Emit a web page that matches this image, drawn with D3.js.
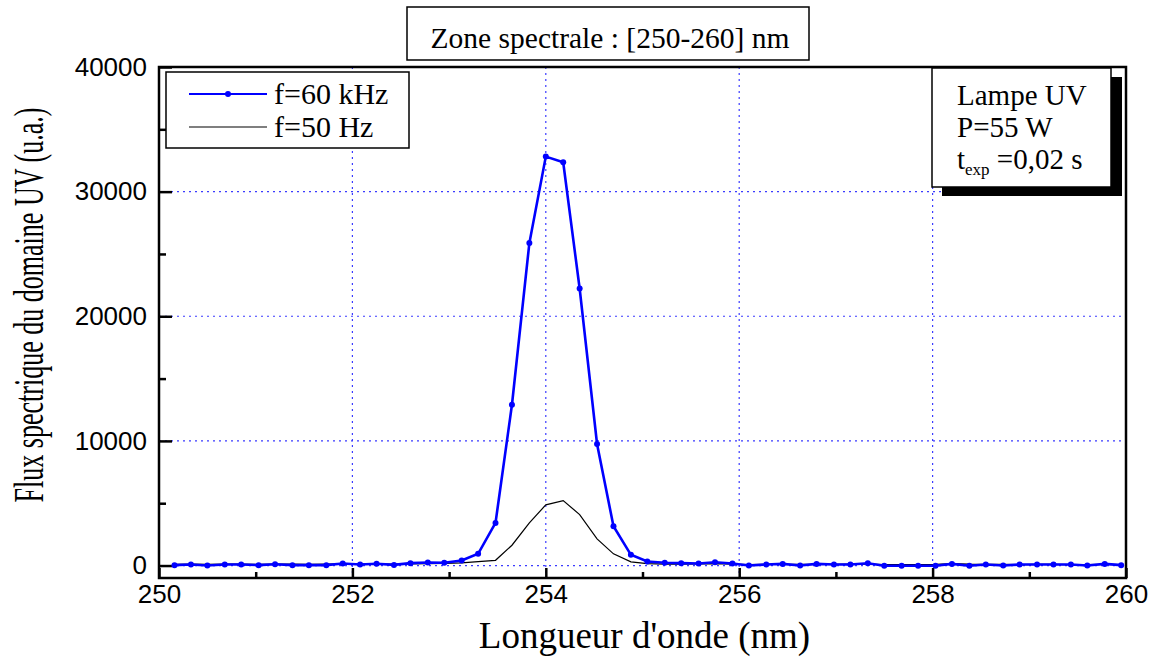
<!DOCTYPE html>
<html>
<head>
<meta charset="utf-8">
<script src="https://cdn.jsdelivr.net/npm/d3@7"></script>
<style>
    body { margin: 0; background: #fff; }
    svg { display: block; }
    .serif { font-family: "Liberation Serif", "Times New Roman", serif; fill: #000; }
    .tick text { font-family: "Liberation Sans", Arial, sans-serif; font-size: 26px; fill: #000; }
</style>
</head>
<body>
<svg id="chart"></svg>
<script>
// wavelengths (nm) of the measured points
const wavelengths = [
    250.16, 250.33, 250.50, 250.68, 250.85, 251.03, 251.20, 251.38, 251.55, 251.73,
    251.90, 252.08, 252.25, 252.43, 252.60, 252.78, 252.95, 253.13, 253.30, 253.48,
    253.65, 253.83, 254.00, 254.18, 254.35, 254.53, 254.70, 254.88, 255.05, 255.23,
    255.40, 255.58, 255.75, 255.93, 256.10, 256.28, 256.45, 256.63, 256.80, 256.98,
    257.15, 257.33, 257.50, 257.68, 257.85, 258.03, 258.20, 258.38, 258.55, 258.73,
    258.90, 259.08, 259.25, 259.43, 259.60, 259.78, 259.95
];

// f=60 kHz
const flux60k = [
    30, 80, 0, 80, 80, 30, 100, 30, 30, 30,
    160, 80, 140, 50, 190, 240, 220, 400, 940, 3420,
    12900, 25870, 32810, 32360, 22230, 9750, 3150, 860, 320, 220,
    190, 160, 260, 160, 0, 80, 130, 0, 130, 80,
    80, 180, -20, -20, -20, -20, 130, -20, 80, 0,
    80, 80, 80, 80, 0, 130, 30
];

// f=50 Hz
const flux50 = [
    100, 110, 100, 120, 110, 100, 120, 110, 100, 110,
    130, 110, 120, 110, 130, 150, 170, 220, 310, 420,
    1630, 3420, 4870, 5210, 4090, 2140, 940, 300, 160, 120,
    110, 130, 150, 110, 80, 90, 100, 90, 100, 100,
    110, 120, 80, 70, 70, 90, 160, 110, 100, 90,
    80, 90, 90, 80, 70, 90, 80
];

const xTicks = [250, 252, 254, 256, 258, 260];
const xMinorTicks = [251, 253, 255, 257, 259];
const yTicks = [0, 10000, 20000, 30000, 40000];
const yMinorTicks = [5000, 15000, 25000, 35000];

const titleText = "Zone spectrale : [250-260] nm";
const legendLabels = ["f=60 kHz", "f=50 Hz"];
const infoLines = ["Lampe UV", "P=55 W"];

const W = 1152, H = 660;
const plotLeft = 159, plotRight = 1126, plotTop = 67, plotBottom = 578;

const svg = d3.select("#chart")
    .attr("width", W)
    .attr("height", H);

svg.append("rect").attr("width", W).attr("height", H).attr("fill", "#fff");

const x = d3.scaleLinear().domain([250, 260]).range([plotLeft, plotRight]);
const y = d3.scaleLinear().domain([-1000, 40000]).range([plotBottom, plotTop]);

// grid
const grid = svg.append("g")
    .attr("stroke", "#3b3bff")
    .attr("stroke-width", 1.2)
    .attr("stroke-dasharray", "2,4");

grid.selectAll(".gx")
    .data(xTicks.slice(1, -1))
    .enter()
    .append("line")
    .attr("x1", d => x(d)).attr("x2", d => x(d))
    .attr("y1", plotTop).attr("y2", plotBottom);

grid.selectAll(".gy")
    .data(yTicks.slice(0, -1))
    .enter()
    .append("line")
    .attr("x1", plotLeft).attr("x2", plotRight)
    .attr("y1", d => y(d)).attr("y2", d => y(d));

// axes, ticks pointing inward
svg.append("g")
    .attr("transform", `translate(0,${plotBottom})`)
    .call(d3.axisBottom(x).tickValues(xTicks).tickFormat(d3.format("d")).tickSize(-10).tickPadding(7));

svg.append("g")
    .attr("transform", `translate(0,${plotBottom})`)
    .call(d3.axisBottom(x).tickValues(xMinorTicks).tickFormat("").tickSize(-6));

svg.append("g")
    .attr("transform", `translate(${plotLeft},0)`)
    .call(d3.axisLeft(y).tickValues(yTicks).tickFormat(d3.format("d")).tickSize(-13).tickPadding(12));

svg.append("g")
    .attr("transform", `translate(${plotLeft},0)`)
    .call(d3.axisLeft(y).tickValues(yMinorTicks).tickFormat("").tickSize(-7));

svg.selectAll(".domain").remove();
svg.selectAll(".tick line").attr("stroke", "#000").attr("stroke-width", 2.5);

// frame
svg.append("rect")
    .attr("x", plotLeft).attr("y", plotTop)
    .attr("width", plotRight - plotLeft).attr("height", plotBottom - plotTop)
    .attr("fill", "none")
    .attr("stroke", "#000")
    .attr("stroke-width", 2.5);

const data60 = wavelengths.map((w, i) => ({ w: w, v: flux60k[i] }));
const data50 = wavelengths.map((w, i) => ({ w: w, v: flux50[i] }));

const line = d3.line().x(d => x(d.w)).y(d => y(d.v));

svg.append("path")
    .datum(data50)
    .attr("d", line)
    .attr("fill", "none")
    .attr("stroke", "#000")
    .attr("stroke-width", 1.2);

svg.append("path")
    .datum(data60)
    .attr("d", line)
    .attr("fill", "none")
    .attr("stroke", "#0000ff")
    .attr("stroke-width", 2.6);

svg.selectAll(".dot")
    .data(data60)
    .enter()
    .append("circle")
    .attr("class", "dot")
    .attr("cx", d => x(d.w))
    .attr("cy", d => y(d.v))
    .attr("r", 3)
    .attr("fill", "#0000ff");

// legend
const lg = svg.append("g");
lg.append("rect")
    .attr("x", 166).attr("y", 72).attr("width", 243).attr("height", 76)
    .attr("fill", "#fff").attr("stroke", "#000").attr("stroke-width", 1.5);

const legendY = [94, 127];
legendLabels.forEach((label, i) => {
    lg.append("line")
        .attr("x1", 189).attr("x2", 267)
        .attr("y1", legendY[i]).attr("y2", legendY[i])
        .attr("stroke", i === 0 ? "#0000ff" : "#000")
        .attr("stroke-width", i === 0 ? 2 : 1.2);
    if (i === 0) {
        lg.append("circle").attr("cx", 228).attr("cy", legendY[i]).attr("r", 3).attr("fill", "#0000ff");
    }
    lg.append("text")
        .attr("class", "serif")
        .attr("x", 274).attr("y", legendY[i] + 10)
        .attr("font-size", 30)
        .text(label);
});

// info box with shadow
const ib = svg.append("g");
ib.append("rect")
    .attr("x", 942).attr("y", 77).attr("width", 180).attr("height", 119)
    .attr("fill", "#000");
ib.append("rect")
    .attr("x", 932).attr("y", 68).attr("width", 179).attr("height", 119)
    .attr("fill", "#fff").attr("stroke", "#000").attr("stroke-width", 1.5);

infoLines.forEach((t, i) => {
    ib.append("text")
        .attr("class", "serif")
        .attr("x", 957).attr("y", 105 + i * 32)
        .attr("font-size", 29)
        .text(t);
});
const texp = ib.append("text")
    .attr("class", "serif")
    .attr("x", 957).attr("y", 169)
    .attr("font-size", 29);
texp.append("tspan").text("t");
texp.append("tspan").attr("font-size", 17).attr("dy", 6).text("exp");
texp.append("tspan").attr("dy", -6).text(" =0,02 s");

// title box
svg.append("rect")
    .attr("x", 407).attr("y", 7).attr("width", 402).attr("height", 53)
    .attr("fill", "#fff").attr("stroke", "#000").attr("stroke-width", 1.5);
svg.append("text")
    .attr("class", "serif")
    .attr("x", 610).attr("y", 48)
    .attr("text-anchor", "middle")
    .attr("font-size", 29.5)
    .text(titleText);

// axis titles
svg.append("text")
    .attr("class", "serif")
    .attr("x", (plotLeft + plotRight) / 2 + 2).attr("y", 648)
    .attr("text-anchor", "middle")
    .attr("font-size", 37)
    .text("Longueur d'onde (nm)");

// y title is drawn condensed: squeeze it to the length seen in the chart
const yTitle = svg.append("text")
    .attr("class", "serif")
    .attr("text-anchor", "middle")
    .attr("font-size", 42)
    .text("Flux spectrique du domaine UV (u.a.)");
const natural = yTitle.node().getComputedTextLength();
yTitle.attr("transform", `translate(43,305) rotate(-90) scale(${395 / natural},1)`);
</script>
</body>
</html>
